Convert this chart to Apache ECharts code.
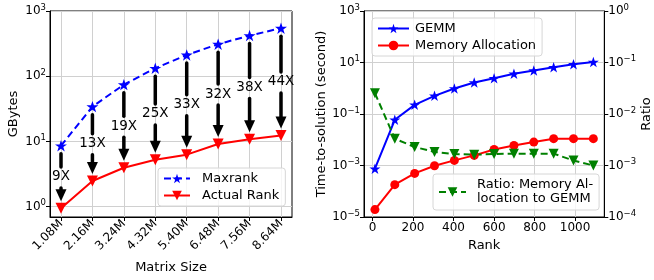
<!DOCTYPE html>
<html>
<head>
<meta charset="utf-8">
<script src="https://cdn.jsdelivr.net/npm/echarts@6/dist/echarts.min.js"></script>
<style>
  html, body { margin: 0; padding: 0; background: #fff; }
  #main { width: 654px; height: 280px; }
</style>
</head>
<body>
<div id="main"></div>
<script>
// left panel: memory of maxrank vs actual rank
var matrixSizes = ['1.08M', '2.16M', '3.24M', '4.32M', '5.40M', '6.48M', '7.56M', '8.64M'];
var maxrankGB = [8.6, 34.2, 74.3, 132.6, 212, 310, 420, 545];
var actualRankGB = [0.95, 2.48, 3.96, 5.26, 6.28, 9.16, 10.8, 12.3];
var reductionLabels = ['9X', '13X', '19X', '25X', '33X', '32X', '38X', '44X'];

// right panel: time vs rank
var ranks = [12, 110, 208, 306, 404, 502, 600, 698, 796, 894, 992, 1090];
var gemmTime = [7.5e-4, 0.0596, 0.227, 0.507, 0.977, 1.67, 2.45, 3.63, 4.85, 6.58, 8.6, 10.5];
var allocTime = [1.94e-5, 1.8e-4, 4.94e-4, 9.8e-4, 1.58e-3, 2.47e-3, 4.2e-3, 6.0e-3, 8.1e-3, 0.011, 0.011, 0.011];
var allocRatio = [0.0254, 3.3e-3, 2.29e-3, 1.83e-3, 1.67e-3, 1.62e-3, 1.67e-3, 1.7e-3, 1.7e-3, 1.7e-3, 1.25e-3, 1.0e-3];
var rankTicks = [0, 200, 400, 600, 800, 1000];

var FONT = 'DejaVu Sans';
var STAR = 'path://M50,0 L61.8,35.1 L98.1,35.1 L68.8,56.7 L79.9,91.6 L50,70 L20.1,91.6 L31.2,56.7 L1.9,35.1 L38.2,35.1 Z';
var ratioName = 'Ratio: Memory Al-\nlocation to GEMM';

function pairs(xs, ys) {
  return ys.map(function (y, i) { return [xs[i], y]; });
}
var sizeIdx = matrixSizes.map(function (s, i) { return i; });

function pow10(v) {
  var e = Math.round(Math.log(v) / Math.LN10);
  return '{b|10}{e|' + (e < 0 ? '\u2212' + (-e) : e) + '}';
}
var supRich = {
  b: { fontSize: 12, color: '#000', fontFamily: FONT },
  e: { fontSize: 8.5, color: '#000', fontFamily: FONT, verticalAlign: 'top', padding: [0, 0, 7, 0] }
};

var gridLine = { show: true, lineStyle: { color: '#d0d0d0', width: 1 } };
var blackLine = { onZero: false, lineStyle: { color: '#000', width: 1 } };
var tick = { length: 4, lineStyle: { color: '#000' } };
var nameStyle = { fontSize: 13, color: '#000', fontFamily: FONT };
var legendBox = { backgroundColor: 'rgba(255,255,255,0.8)', borderColor: '#d6d6d6', borderWidth: 1, borderRadius: 3 };

function renderArrow(params, api) {
  var i = params.dataIndex;
  var top = api.coord([api.value(0), api.value(1)]);
  var bot = api.coord([api.value(0), api.value(2)]);
  var x = top[0];
  var mid = (top[1] + bot[1]) / 2;
  var tip = bot[1] - 7;
  var headTop = tip - 12;
  var st = { stroke: '#000', lineWidth: 3.5, lineCap: 'round' };
  var kids = [];
  if (mid - 10 > top[1] + 8) {
    kids.push({ type: 'line', shape: { x1: x, y1: top[1] + 8, x2: x, y2: mid - 10 }, style: st });
  }
  if (headTop > mid + 11) {
    kids.push({ type: 'line', shape: { x1: x, y1: mid + 11, x2: x, y2: headTop + 1 }, style: st });
  }
  kids.push({ type: 'polygon', shape: { points: [[x - 5.5, headTop], [x + 5.5, headTop], [x, tip]] }, style: { fill: '#000' } });
  kids.push({ type: 'text', style: { text: reductionLabels[i], x: x, y: mid, align: 'center', verticalAlign: 'middle', fontSize: 13.5, fontFamily: FONT, fill: '#000' } });
  return { type: 'group', children: kids };
}

function legend(extra) {
  var o = { orient: 'vertical', itemHeight: 12, padding: [4, 6, 4, 5] };
  for (var k in legendBox) o[k] = legendBox[k];
  for (var k2 in extra) o[k2] = extra[k2];
  return o;
}

var chart = echarts.init(document.getElementById('main'));
var option = {
  animation: false,
  textStyle: { fontFamily: FONT, color: '#000' },
  grid: [
    { left: 50, top: 11, width: 242, height: 206, show: true, borderColor: '#000', borderWidth: 1 },
    { left: 364, top: 11, width: 243, height: 206, show: true, borderColor: '#000', borderWidth: 1 }
  ],
  xAxis: [
    {
      gridIndex: 0, type: 'value', min: -0.35, max: 7.35,
      axisLine: blackLine,
      axisTick: { length: 4, lineStyle: { color: '#000' }, customValues: sizeIdx },
      axisLabel: {
        customValues: sizeIdx, rotate: 45, fontSize: 12, color: '#000', margin: 5,
        formatter: function (v) { return matrixSizes[Math.round(v)]; }
      },
      splitLine: gridLine,
      name: 'Matrix Size', nameLocation: 'middle', nameGap: 44, nameTextStyle: nameStyle
    },
    {
      gridIndex: 1, type: 'value', min: -42, max: 1144,
      axisLine: blackLine,
      axisTick: { length: 4, lineStyle: { color: '#000' }, customValues: rankTicks },
      axisLabel: {
        customValues: rankTicks, fontSize: 12, color: '#000', margin: 5,
        formatter: function (v) { return String(v); }
      },
      splitLine: gridLine,
      name: 'Rank', nameLocation: 'middle', nameGap: 18, nameTextStyle: nameStyle
    }
  ],
  yAxis: [
    {
      gridIndex: 0, type: 'log', logBase: 10, min: 0.695, max: 1000,
      axisLine: blackLine, axisTick: tick,
      axisLabel: { formatter: pow10, rich: supRich, margin: 4, showMinLabel: false },
      splitLine: gridLine,
      name: 'GBytes', nameLocation: 'middle', nameGap: 30, nameTextStyle: nameStyle
    },
    {
      gridIndex: 1, type: 'log', logBase: 10, min: 1e-5, max: 1e3, interval: 2,
      axisLine: blackLine, axisTick: tick,
      axisLabel: { formatter: pow10, rich: supRich, margin: 4 },
      splitLine: gridLine,
      name: 'Time-to-solution (second)', nameLocation: 'middle', nameGap: 36, nameTextStyle: nameStyle
    },
    {
      gridIndex: 1, type: 'log', logBase: 10, min: 1e-4, max: 1, position: 'right',
      axisLine: blackLine, axisTick: tick,
      axisLabel: { formatter: pow10, rich: supRich, margin: 4 },
      splitLine: { show: false },
      name: 'Ratio', nameLocation: 'middle', nameGap: 35, nameRotate: 90, nameTextStyle: nameStyle
    }
  ],
  legend: [
    legend({
      data: ['Maxrank', 'Actual Rank'], left: 158, top: 168,
      itemWidth: 26, itemGap: 4, padding: [4, 6, 4, 5],
      textStyle: { fontSize: 13, color: '#000', padding: [0, 0, 0, 7] }
    }),
    legend({
      data: ['GEMM', 'Memory Allocation'], left: 372, top: 18,
      itemWidth: 31, itemGap: 4,
      textStyle: { fontSize: 13, color: '#000', padding: [0, 0, 0, 1] }
    }),
    legend({
      data: [ratioName], left: 433, top: 174,
      itemWidth: 27,
      textStyle: { fontSize: 13, color: '#000', lineHeight: 14, padding: [0, 0, 0, 6] }
    })
  ],
  series: [
    {
      type: 'custom', xAxisIndex: 0, yAxisIndex: 0, z: 1,
      renderItem: renderArrow,
      data: maxrankGB.map(function (m, i) { return [i, m, actualRankGB[i]]; })
    },
    {
      name: 'Maxrank', type: 'line', xAxisIndex: 0, yAxisIndex: 0, z: 3,
      data: pairs(sizeIdx, maxrankGB),
      symbol: STAR, symbolKeepAspect: true, symbolSize: 12,
      lineStyle: { color: '#0000ff', width: 2, type: [7, 4] },
      itemStyle: { color: '#0000ff' }
    },
    {
      name: 'Actual Rank', type: 'line', xAxisIndex: 0, yAxisIndex: 0, z: 3,
      data: pairs(sizeIdx, actualRankGB),
      symbol: 'triangle', symbolRotate: 180, symbolSize: 11,
      lineStyle: { color: '#ff0000', width: 2 },
      itemStyle: { color: '#ff0000' }
    },
    {
      name: 'GEMM', type: 'line', xAxisIndex: 1, yAxisIndex: 1, z: 3,
      data: pairs(ranks, gemmTime),
      symbol: STAR, symbolKeepAspect: true, symbolSize: 11,
      lineStyle: { color: '#0000ff', width: 2 },
      itemStyle: { color: '#0000ff' }
    },
    {
      name: 'Memory Allocation', type: 'line', xAxisIndex: 1, yAxisIndex: 1, z: 3,
      data: pairs(ranks, allocTime),
      symbol: 'circle', symbolSize: 9,
      lineStyle: { color: '#ff0000', width: 2 },
      itemStyle: { color: '#ff0000' }
    },
    {
      name: ratioName, type: 'line', xAxisIndex: 1, yAxisIndex: 2, z: 3,
      data: pairs(ranks, allocRatio),
      symbol: 'triangle', symbolRotate: 180, symbolSize: 10,
      lineStyle: { color: '#008000', width: 2, type: [7, 4] },
      itemStyle: { color: '#008000' }
    }
  ]
};
chart.setOption(option);
</script>
</body>
</html>
